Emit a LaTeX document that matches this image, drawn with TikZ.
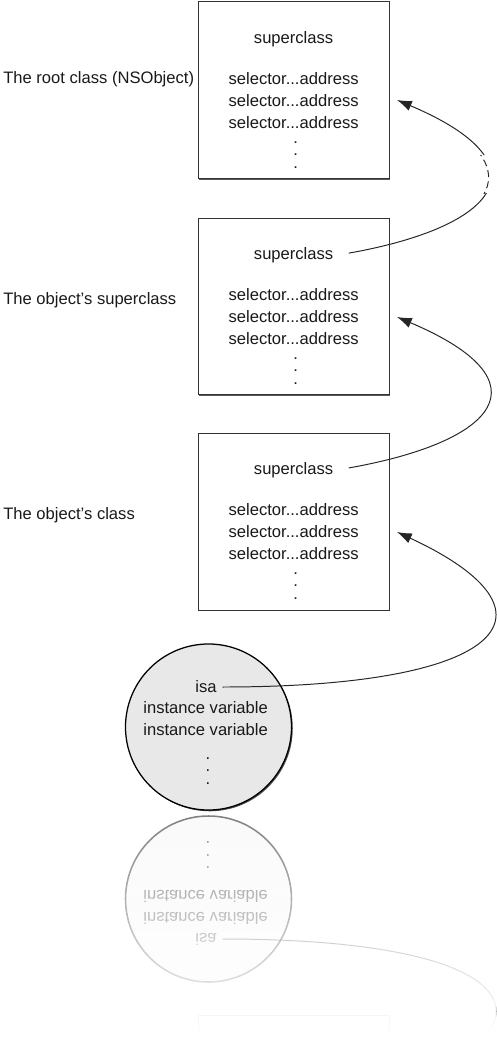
\documentclass[tikz,border=0pt]{standalone}
\usepackage{fontspec}
\setmainfont{Liberation Sans}
\usetikzlibrary{arrows.meta,shadows}

\begin{document}
\begin{tikzpicture}[
  txt/.style={text=black!90,font=\fontsize{11.8}{15.6}\selectfont,align=center,inner sep=1pt},
  vdotsblock/.style={text=black!90,font=\fontsize{11.8}{9}\selectfont,align=center,inner sep=0pt},
  lbl/.style={text=black!90,font=\fontsize{11.8}{15.6}\selectfont,anchor=west,inner sep=0pt},
  classbox/.style={draw=black!80,fill=white,line width=0.65pt,minimum width=4.78cm,minimum height=4.42cm},
  object/.style={circle,draw=black,fill=black!9,line width=0.9pt,minimum size=4.15cm},
  boxshadow/.style={drop shadow={shadow xshift=0.9pt,shadow yshift=-0.9pt,fill=black!65,opacity=1}},
  linkline/.style={draw=black!85,line width=0.7pt},
  link/.style={linkline,-{Latex[length=10.5pt,width=7.5pt]}}
]
\useasboundingbox (0,0) rectangle (12.4,-26.35);

% the three class structures
\node[classbox,boxshadow] (cls1) at (7.34,-2.256) {};
\node[txt] (sup1) at (7.34,-0.99) {superclass};
\node[txt] (sel1) at (7.34,-2.51) {selector...address\\selector...address\\selector...address};
\node[vdotsblock] (dot1) at (7.39,-3.87) {.\\.\\.};
\node[lbl] (lab1) at (0.075,-1.975) {The root class (NSObject)};

\node[classbox,boxshadow] (cls2) at (7.34,-7.6625) {};
\node[txt] (sup2) at (7.34,-6.39) {superclass};
\node[txt] (sel2) at (7.34,-7.91) {selector...address\\selector...address\\selector...address};
\node[vdotsblock] (dot2) at (7.39,-9.27) {.\\.\\.};
\node[lbl] (lab2) at (0.075,-7.5) {The object's superclass};

\node[classbox,boxshadow] (cls3) at (7.34,-13.044) {};
\node[txt] (sup3) at (7.34,-11.76) {superclass};
\node[txt] (sel3) at (7.34,-13.29) {selector...address\\selector...address\\selector...address};
\node[vdotsblock] (dot3) at (7.39,-14.645) {.\\.\\.};
\node[lbl] (lab3) at (0.075,-12.875) {The object's class};

% the object
\node[object,drop shadow={shadow xshift=0.9pt,shadow yshift=-0.9pt,fill=black!70,opacity=1}] (obj) at (5.2125,-18.175) {};
\node[txt] (isa) at (5.15,-17.175) {isa};
\node[txt] (ivar) at (5.14,-17.975) {instance variable\\instance variable};
\node[vdotsblock] (dot4) at (5.2,-19.27) {.\\.\\.};

\coordinate (tip1) at (9.925,-2.5);
\coordinate (tip2) at (9.925,-7.925);
\coordinate (tip3) at (9.925,-13.3);

% superclass pointers, the top one broken by a dashed stretch
\begin{scope}
  \clip (0,0) rectangle (12.4,-3.875) (0,-4.825) rectangle (12.4,-26.35);
  \draw[link,shorten <=10pt] (sup2.east) .. controls +(4.06,0.72) and +(3.8,-1.61) .. (tip1);
\end{scope}
\begin{scope}
  \clip (0,-3.875) rectangle (12.4,-4.825);
  \draw[linkline,dash pattern=on 5pt off 3pt,shorten <=10pt] (sup2.east) .. controls +(4.06,0.72) and +(3.8,-1.61) .. (tip1);
\end{scope}
\draw[link,shorten <=10pt] (sup3.east) .. controls +(4.06,0.72) and +(3.8,-1.61) .. (tip2);
\draw[link,shorten <=3pt] (isa.east) .. controls +(7.25,0) and +(4.3,-2.0) .. (tip3);

% mirror image below the object
\begin{scope}[yshift=-40.65cm,yscale=-1,transform shape,opacity=0.5]
  \node[classbox] (cls3r) at (7.34,-13.044) {};
  \node[object,fill=black!4,line width=1.1pt] (objr) at (5.2125,-18.175) {};
  \node[txt] (isar) at (5.15,-17.175) {isa};
  \node[txt] (ivarr) at (5.14,-17.975) {instance variable\\instance variable};
  \node[vdotsblock] (dot4r) at (5.2,-19.27) {.\\.\\.};
  \coordinate (tip3r) at (9.925,-13.3);
  \draw[link,shorten <=3pt] (isar.east) .. controls +(7.25,0) and +(4.3,-2.0) .. (tip3r);
\end{scope}
\foreach \i [evaluate=\i as \op using \i/40] in {1,...,40}
  \fill[white,opacity=\op] (0,{-20.325-0.142*(\i-1)}) rectangle (12.4,{-20.325-0.142*\i});
\fill[white] (0,-26.0) rectangle (12.4,-26.35);
\end{tikzpicture}
\end{document}
